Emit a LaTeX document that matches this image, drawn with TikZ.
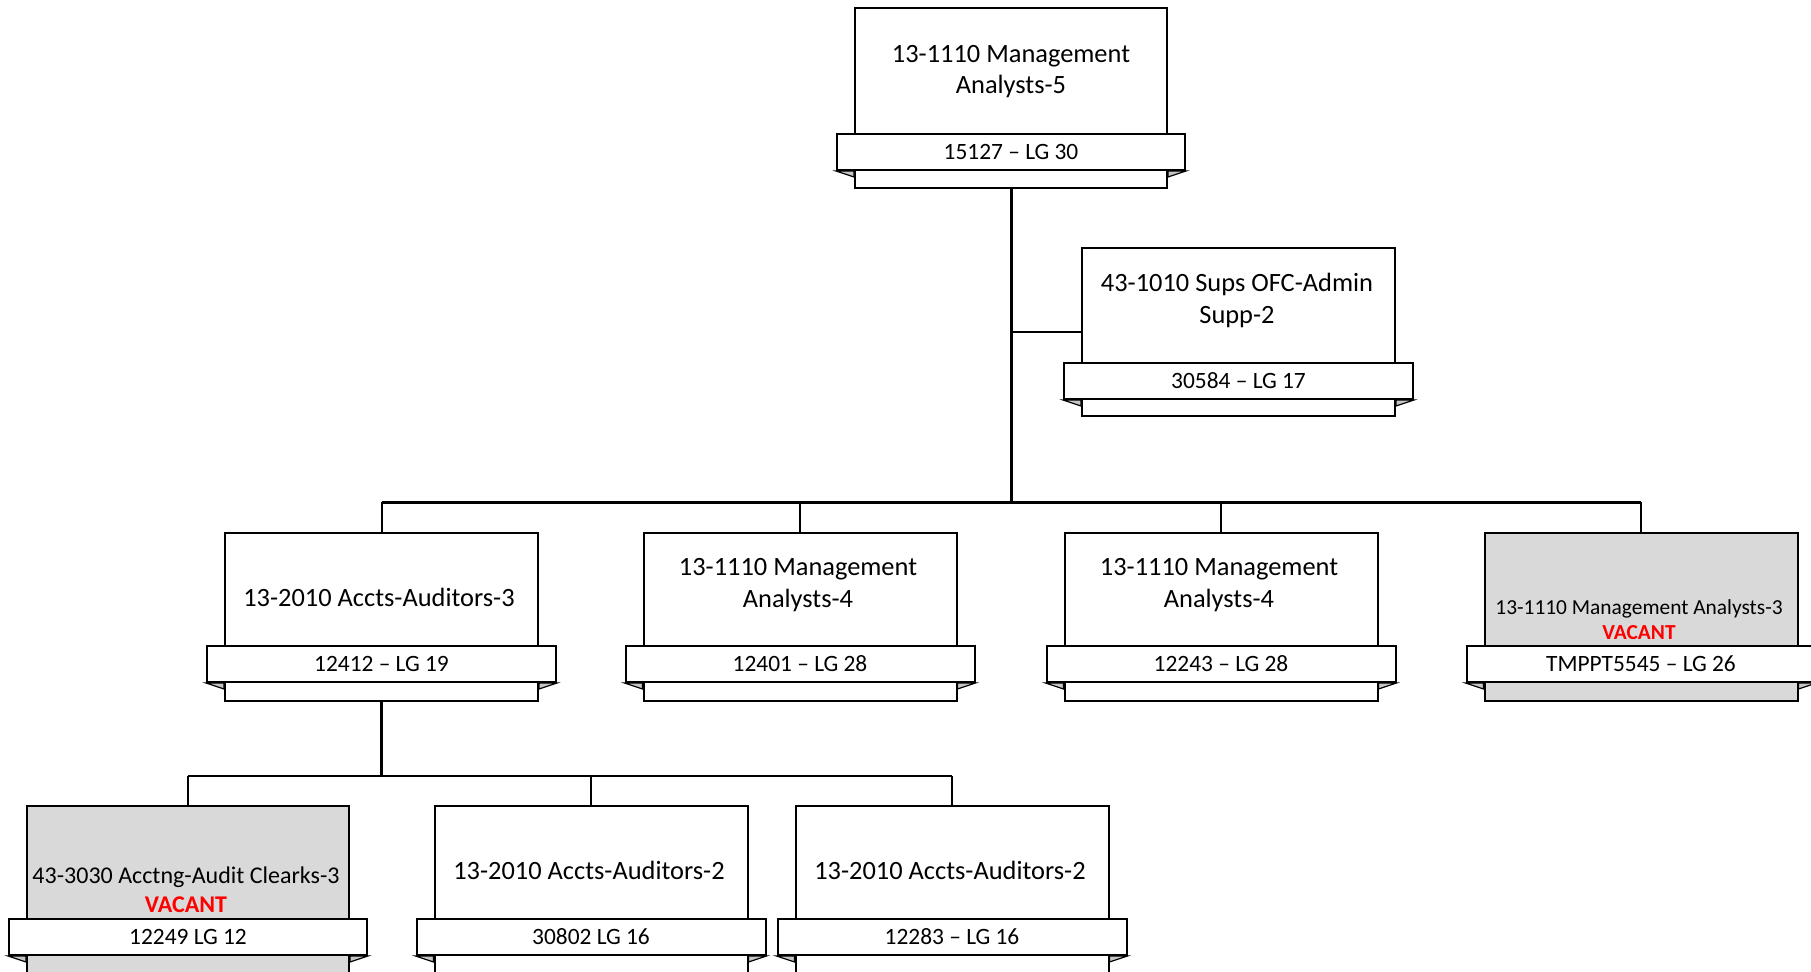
\documentclass[tikz,border=0pt]{standalone}
\usepackage{fontspec}
\setmainfont{Carlito}
\usetikzlibrary{calc}
\definecolor{vacgray}{HTML}{D9D9D9}
\definecolor{foldgray}{HTML}{C6C6C6}
\definecolor{vacred}{HTML}{FF0000}

\tikzset{
  post/.style={draw=black, line width=1pt, anchor=north, inner sep=0pt},
  ribbon/.style={draw=black, fill=white, line width=1pt, anchor=north,
    inner sep=0pt, minimum height=18pt, font=\fontsize{11.7}{14}\selectfont},
  fold/.style={fill=foldgray, draw=black, line width=0.6pt},
  title/.style={align=center, inner sep=0pt, font=\fontsize{13.2}{15.7}\selectfont},
  trunk/.style={line width=1.5pt},
  link/.style={line width=1pt}
}

% #1 name, #2 centre x, #3 top, #4 width, #5 height, #6 fill, #7 ribbon offset, #8 ribbon text
\newcommand\orgpost[8]{%
  \node[post, fill=#6, minimum width=#4*0.5pt, minimum height=#5*0.5pt] (#1) at (#2,#3) {};
  \node[ribbon, minimum width=(#4+36)*0.5pt] (#1-id) at (#2,#3+#7) {#8};
  \draw[fold] (#1-id.south west) -- (#1-id.south west -| #1.west)
    -- ($(#1-id.south west -| #1.west)+(0,6)$) -- cycle;
  \draw[fold] (#1-id.south east) -- (#1-id.south east -| #1.east)
    -- ($(#1-id.south east -| #1.east)+(0,6)$) -- cycle;
}

\begin{document}
\begin{tikzpicture}[x=0.5pt,y=-0.5pt]
   \useasboundingbox (0,0) rectangle (1811,971);
   \clip (0,0) rectangle (1811,971);
   % \draw[help lines] (0,0) grid[xstep=100,ystep=100] (1811,971);

   % top
   \orgpost{ana5}{1011}{7}{312}{180}{white}{126}{15127 -- LG 30}
   \node[title] (ana5-t) at (1011,71.5) {13-1110 Management\\Analysts-5};

   % staff post
   \orgpost{sup2}{1238.5}{247}{313}{168}{white}{115}{30584 -- LG 17}
   \node[title] (sup2-t) at (1237,300.5) {43-1010 Sups OFC-Admin\\Supp-2};

   % second row
   \orgpost{acc3}{381.5}{532}{313}{168}{white}{113}{12412 -- LG 19}
   \orgpost{man4a}{800}{532}{313}{168}{white}{113}{12401 -- LG 28}
   \orgpost{man4b}{1221}{532}{313}{168}{white}{113}{12243 -- LG 28}
   \orgpost{man3}{1641}{532}{313}{168}{vacgray}{113}{TMPPT5545 -- LG 26}
   \node[title] (acc3-t) at (379,597) {13-2010 Accts-Auditors-3};
   \node[title] (man4a-t) at (798,585) {13-1110 Management\\Analysts-4};
   \node[title] (man4b-t) at (1219,585) {13-1110 Management\\Analysts-4};
   \node[title, font=\fontsize{10.7}{12.5}\selectfont] (man3-t) at (1639,620)
     {13-1110 Management Analysts-3\\{\color{vacred}\bfseries VACANT}};

   % third row
   \orgpost{clk3}{188}{805}{322}{169}{vacgray}{113}{12249 LG 12}
   \orgpost{aud2a}{591}{805}{313}{169}{white}{113}{30802 LG 16}
   \orgpost{aud2b}{952}{805}{313}{169}{white}{113}{12283 -- LG 16}
   \node[title, font=\fontsize{12}{14.5}\selectfont] (clk3-t) at (186,890)
     {43-3030 Acctng-Audit Clearks-3\\{\color{vacred}\bfseries VACANT}};
   \node[title] (aud2a-t) at (589,870) {13-2010 Accts-Auditors-2};
   \node[title] (aud2b-t) at (950,870) {13-2010 Accts-Auditors-2};

   % lines
   \coordinate (bar2) at (1011,502);
   \coordinate (bar3) at (381.5,776);
   \draw[trunk] (ana5.south) -- (bar2);
   \draw[link] (ana5.south |- sup2.west) -- (sup2.west);
   \draw[trunk] (acc3.north |- bar2) -- (man3.north |- bar2);
   \foreach \p in {acc3,man4a,man4b,man3}
     \draw[link] (\p.north |- bar2) -- (\p.north);
   \draw[trunk] (acc3.south) -- (bar3);
   \draw[line width=1.2pt] (clk3.north |- bar3) -- (aud2b.north |- bar3);
   \foreach \p in {clk3,aud2a,aud2b}
     \draw[link] (\p.north |- bar3) -- (\p.north);
\end{tikzpicture}
\end{document}
